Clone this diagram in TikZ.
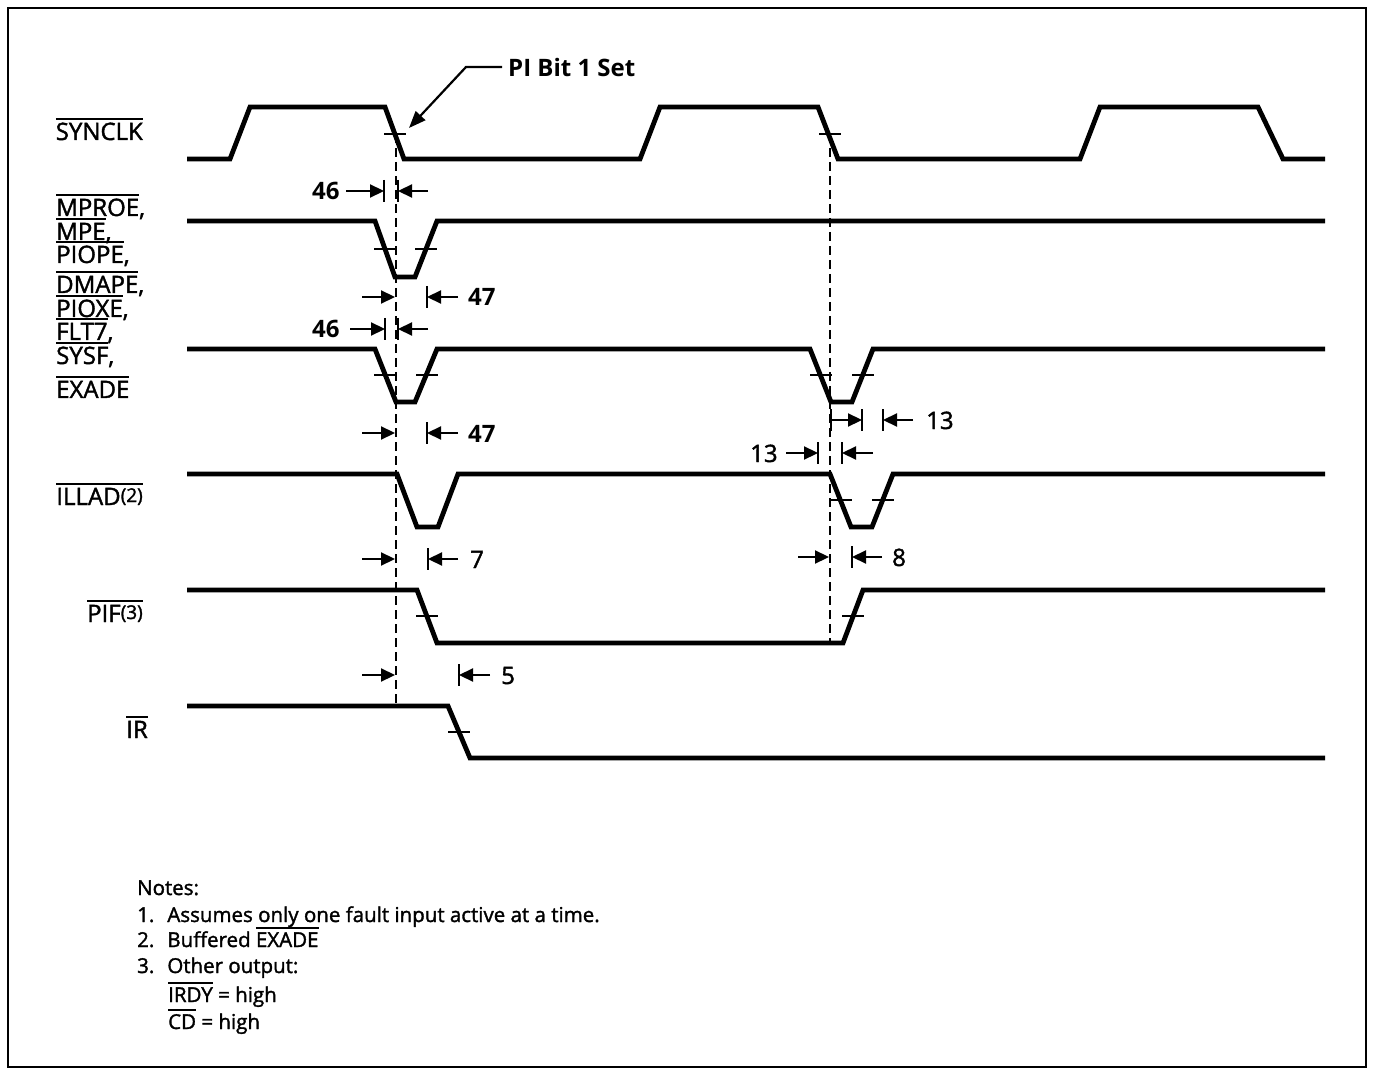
\documentclass[tikz,border=0pt]{standalone}
\usepackage{fontspec}
\setmainfont{Open Sans}
\newfontfamily\medium{Open Sans}[FakeBold=1.6]
\usetikzlibrary{arrows.meta}
\newcommand\ovl[1]{\vbox{\hrule height 2pt\kern 3pt\hbox{#1}}}
\newcommand\supn[1]{\raisebox{3pt}{\fontsize{19}{19}\selectfont #1}}
\begin{document}
\begin{tikzpicture}[x=1pt,y=-1pt,
  sig/.style={line width=4.8pt},
  tickmark/.style={line width=2pt},
  guide/.style={line width=2.5pt, dash pattern=on 9pt off 5pt},
  dima/.style={line width=2.2pt, -{Triangle[length=14pt,width=13pt]}},
  dimbar/.style={line width=2.5pt},
  lbl/.style={inner sep=0pt, font=\medium\fontsize{24}{26}\selectfont},
  num/.style={inner sep=0pt, font=\fontsize{24}{26}\selectfont\bfseries},
  note/.style={inner sep=0pt, anchor=base west, font=\medium\fontsize{20.5}{22}\selectfont}]
\useasboundingbox (0,0) rectangle (1374,1075);
\draw[line width=2pt] (8,8) rectangle (1366,1067);

% labels
\node[lbl, anchor=base east] (lsync) at (143,140) {\ovl{SYNCLK}};
\node[lbl, anchor=base west] (l1) at (56,216) {\ovl{MPROE},};
\node[lbl, anchor=base west] (l2) at (56,240) {\ovl{MPE},};
\node[lbl, anchor=base west] (l3) at (56,263) {\ovl{PIOPE},};
\node[lbl, anchor=base west] (l4) at (56,293) {\ovl{DMAPE},};
\node[lbl, anchor=base west] (l5) at (56,317) {\ovl{PIOXE},};
\node[lbl, anchor=base west] (l6) at (56,340) {\ovl{FLT7},};
\node[lbl, anchor=base west] (l7) at (56,364) {\ovl{SYSF},};
\node[lbl, anchor=base west] (l8) at (56,398) {\ovl{EXADE}};
\node[lbl, anchor=base east] (lill) at (143,505) {\ovl{ILLAD\supn{(2)}}};
\node[lbl, anchor=base east] (lpif) at (143,622) {\ovl{PIF\supn{(3)}}};
\node[lbl, anchor=base east] (lir) at (148,738) {\ovl{IR}};

% SYNCLK
\draw[sig] (187,159) -- (230,159) -- (250,107) -- (385,107) -- (404,159) -- (640,159) -- (660,107) -- (818,107) -- (838,159) -- (1080,159) -- (1100,107) -- (1258,107) -- (1283,159) -- (1325,159);
\draw[tickmark] (384,134) -- (406,134);
\draw[tickmark] (819,134) -- (841,134);

% MPROE group line 1
\draw[sig] (187,221) -- (375,221) -- (395,277) -- (415,277) -- (437,221) -- (1325,221);
\draw[tickmark] (374,249) -- (396,249);
\draw[tickmark] (415,249) -- (437,249);

% group line 2
\draw[sig] (187,349) -- (375,349) -- (396,402) -- (415,402) -- (437,349) -- (810,349) -- (831,402) -- (852,402) -- (873,349) -- (1325,349);
\draw[tickmark] (374,375) -- (396,375);
\draw[tickmark] (416,375) -- (438,375);
\draw[tickmark] (810,375) -- (832,375);
\draw[tickmark] (852,375) -- (874,375);

% ILLAD
\draw[sig] (187,474) -- (397,474) -- (417,527) -- (438,527) -- (458,474) -- (830,474) -- (851,527) -- (872,527) -- (893,474) -- (1325,474);
\draw[tickmark] (831,500) -- (852,500);
\draw[tickmark] (872,500) -- (894,500);

% PIF
\draw[sig] (187,590) -- (417,590) -- (437,643) -- (843,643) -- (863,590) -- (1325,590);
\draw[tickmark] (416,616) -- (438,616);
\draw[tickmark] (842,616) -- (864,616);

% IR
\draw[sig] (187,706) -- (448,706) -- (470,758) -- (1325,758);
\draw[tickmark] (448,732) -- (470,732);

% guides
\draw[guide] (396,134) -- (396,706);
\draw[guide] (830,134) -- (830,643);

% PI Bit 1 Set
\node[num, anchor=base west] (pib) at (508,77) {PI Bit 1 Set};
\coordinate (pk) at (466,67);
\coordinate (pt) at (409,128);
\draw[line width=2.2pt, -{Triangle[length=17pt,width=13pt]}] (pib.west) ++(-6,-1) -- (pk) -- (pt);

% 46 (first)
\node[num, anchor=base west] (n46a) at (312,200) {46};
\draw[dima] (346,191) -- (384,191);
\draw[dimbar] (384,180) -- (384,202);
\draw[dimbar] (398,180) -- (398,202);
\draw[dima] (428,191) -- (398,191);

% 47 (first)
\draw[dima] (362,297) -- (395,297);
\draw[dimbar] (427,286) -- (427,308);
\draw[dima] (458,297) -- (427,297);
\node[num, anchor=base west] (n47a) at (468,306) {47};

% 46 (second)
\node[num, anchor=base west] (n46b) at (312,338) {46};
\draw[dima] (350,329) -- (385,329);
\draw[dimbar] (385,318) -- (385,340);
\draw[dimbar] (398,318) -- (398,340);
\draw[dima] (428,329) -- (398,329);

% 47 (second)
\draw[dima] (362,433) -- (395,433);
\draw[dimbar] (427,422) -- (427,444);
\draw[dima] (458,433) -- (427,433);
\node[num, anchor=base west] (n47b) at (468,442) {47};

% 13 right
\draw[dimbar] (831,409) -- (831,431);
\draw[dima] (831,420) -- (862,420);
\draw[dimbar] (862,409) -- (862,431);
\draw[dimbar] (883,409) -- (883,431);
\draw[dima] (913,420) -- (883,420);
\node[lbl, anchor=base west] (n13a) at (926,429) {13};

% 13 left
\node[lbl, anchor=base west] (n13b) at (750,462) {13};
\draw[dima] (786,453) -- (818,453);
\draw[dimbar] (818,442) -- (818,464);
\draw[dimbar] (842,442) -- (842,464);
\draw[dima] (873,453) -- (842,453);

% 7
\draw[dima] (362,559) -- (395,559);
\draw[dimbar] (428,548) -- (428,570);
\draw[dima] (458,559) -- (428,559);
\node[lbl, anchor=base west] (n7) at (470,568) {7};

% 8
\draw[dima] (798,557) -- (829,557);
\draw[dimbar] (852,546) -- (852,568);
\draw[dima] (882,557) -- (852,557);
\node[lbl, anchor=base west] (n8) at (892,566) {8};

% 5
\draw[dima] (362,675) -- (395,675);
\draw[dimbar] (459,664) -- (459,686);
\draw[dima] (490,675) -- (459,675);
\node[lbl, anchor=base west] (n5) at (501,684) {5};

% notes
\node[note] (nt0) at (137,895) {Notes:};
\node[note] (nt1) at (137,922) {1.\hspace{13pt}Assumes only one fault input active at a time.};
\node[note] (nt2) at (137,947) {2.\hspace{13pt}Buffered \ovl{EXADE}};
\node[note] (nt3) at (137,973) {3.\hspace{13pt}Other output:};
\node[note] (nt4) at (168,1002) {\ovl{IRDY} = high};
\node[note] (nt5) at (168,1029) {\ovl{CD} = high};
\end{tikzpicture}
\end{document}
